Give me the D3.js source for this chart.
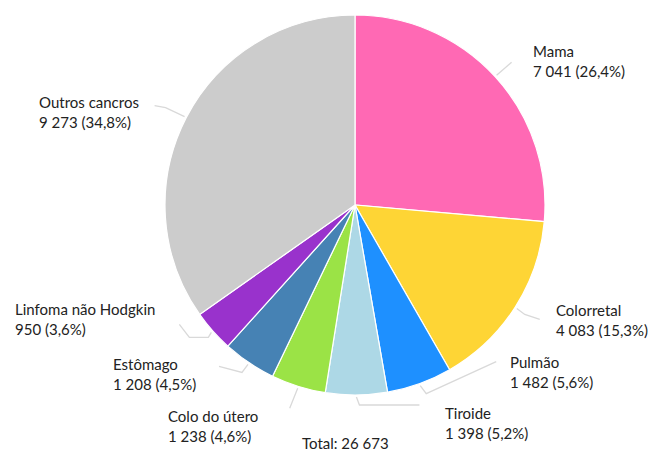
<!DOCTYPE html>
<html>
<head>
<meta charset="utf-8">
<script src="https://cdn.jsdelivr.net/npm/d3@7"></script>
<style>
  body { margin: 0; background: #fff; }
  text { font-family: Lato, "Open Sans", sans-serif; fill: #222; }
</style>
</head>
<body>
<script>
// data
var categories = ["Mama", "Colorretal", "Pulmão", "Tiroide", "Colo do útero", "Estômago", "Linfoma não Hodgkin", "Outros cancros"];
var values = [7041, 4083, 1482, 1398, 1238, 1208, 950, 9273];
var percents = ["26,4%", "15,3%", "5,6%", "5,2%", "4,6%", "4,5%", "3,6%", "34,8%"];
var valueLabels = ["7 041", "4 083", "1 482", "1 398", "1 238", "1 208", "950", "9 273"];
var totalLabel = "Total: 26 673";
var colors = ["#ff69b4", "#fed535", "#1e90ff", "#add8e6", "#9be346", "#4682b4", "#9932cc", "#cccccc"];

// layout
var width = 649, height = 452;
var cx = 355, cy = 205, radius = 190;

// label anchor (x, first baseline) and leader offsets from slice edge
var labelPos = [
  { x: 533, y: 57, leader: [[15, -13]] },
  { x: 556, y: 316, leader: [[8, 6], [23, 11]] },
  { x: 510, y: 368, leader: [[6, 8], [76, -24]] },
  { x: 445, y: 419, leader: [[3, 8], [63, 8]] },
  { x: 168, y: 422, leader: [[-4, 10], [-8, 20]] },
  { x: 113, y: 370, leader: [[-6, 8], [-29, 2]] },
  { x: 15, y: 315, leader: [[-3, 5], [-22, 5], [-32, -8]] },
  { x: 39, y: 108, leader: [[-19, -9], [-30, -11]] }
];

var svg = d3.select("body")
    .append("svg")
    .attr("width", width)
    .attr("height", height);

var pie = d3.pie().sort(null).value(d => d)
    .startAngle(0).endAngle(2 * Math.PI);
var arcs = pie(values);

var arc = d3.arc().innerRadius(0).outerRadius(radius);
var edge = d3.arc().innerRadius(radius + 2).outerRadius(radius + 2);

var g = svg.append("g")
    .attr("transform", `translate(${cx},${cy})`);

g.selectAll("path.slice")
    .data(arcs)
    .enter()
    .append("path")
    .attr("class", "slice")
    .attr("d", arc)
    .attr("fill", (d, i) => colors[i])
    .attr("stroke", "#fff")
    .attr("stroke-width", 1.2);

// leader lines
var line = d3.line().curve(d3.curveLinear);
g.selectAll("path.leader")
    .data(arcs)
    .enter()
    .append("path")
    .attr("class", "leader")
    .attr("d", (d, i) => {
        var p = edge.centroid(d);
        var pts = [p].concat(labelPos[i].leader.map(o => [p[0] + o[0], p[1] + o[1]]));
        return line(pts);
    })
    .attr("fill", "none")
    .attr("stroke", "#d9d9d9")
    .attr("stroke-width", 1.3);

// labels
var labels = svg.selectAll("text.lbl")
    .data(categories)
    .enter()
    .append("text")
    .attr("class", "lbl")
    .attr("font-size", "15px");

labels.append("tspan")
    .attr("x", (d, i) => labelPos[i].x)
    .attr("y", (d, i) => labelPos[i].y)
    .text(d => d);

labels.append("tspan")
    .attr("x", (d, i) => labelPos[i].x)
    .attr("y", (d, i) => labelPos[i].y + 19.5)
    .text((d, i) => valueLabels[i] + " (" + percents[i] + ")");

svg.append("text")
    .attr("x", 302)
    .attr("y", 449)
    .attr("font-size", "15px")
    .text(totalLabel);
</script>
</body>
</html>
